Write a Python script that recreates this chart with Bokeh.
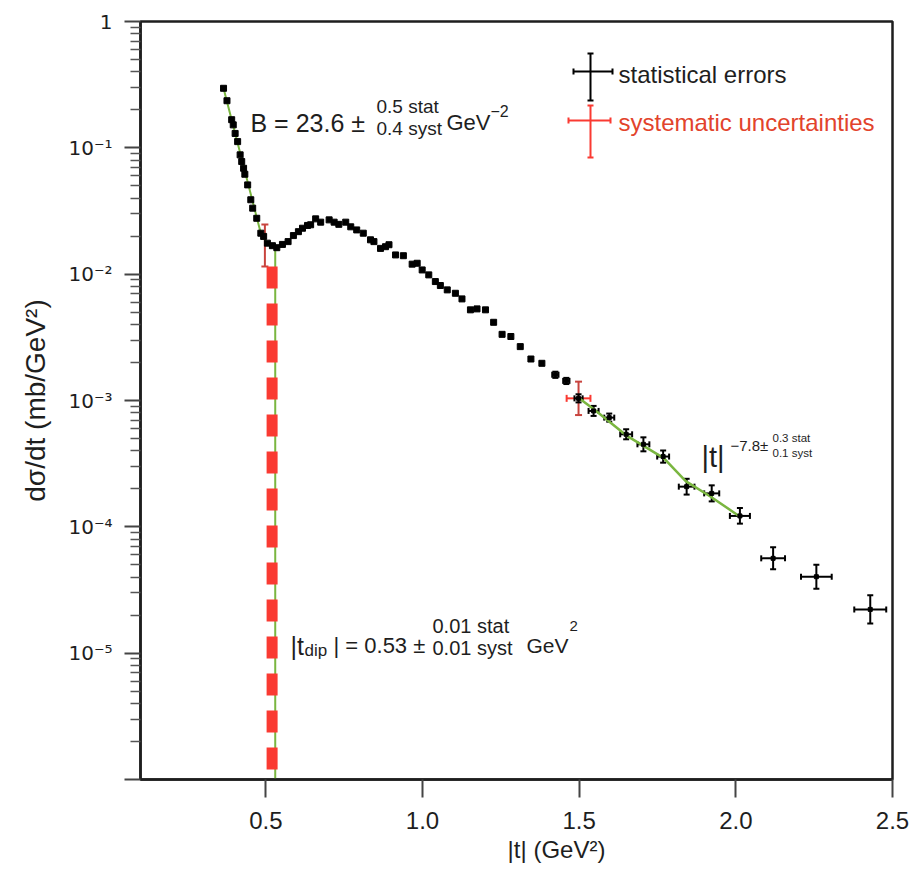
from bokeh.plotting import figure
from bokeh.models import Range1d, Label, Whisker, ColumnDataSource, FixedTicker, TeeHead
from bokeh.embed import file_html
from bokeh.resources import INLINE

# ---------------- data ----------------
# |t| (GeV^2) and dsigma/dt (mb/GeV^2) : dense points (error bars smaller than marker)
t_fine = [0.365, 0.376, 0.391, 0.396, 0.402, 0.410, 0.418, 0.423, 0.429, 0.433,
          0.442, 0.452, 0.458, 0.471, 0.484, 0.493, 0.505, 0.521, 0.535, 0.553,
          0.571, 0.588, 0.604, 0.617, 0.633, 0.643, 0.659, 0.675, 0.702, 0.718,
          0.733, 0.755, 0.771, 0.790, 0.811, 0.834, 0.845, 0.866, 0.882, 0.893,
          0.914, 0.939, 0.967, 0.983, 0.999, 1.020, 1.041, 1.057, 1.079, 1.105,
          1.126, 1.153, 1.174, 1.201, 1.227, 1.254, 1.282, 1.312, 1.346, 1.381]
ds_fine = [0.296, 0.236, 0.167, 0.152, 0.130, 0.112, 0.0880, 0.0779, 0.0689, 0.0618,
           0.0509, 0.0388, 0.0333, 0.0277, 0.0211, 0.0199, 0.0176, 0.0168, 0.0162, 0.0172,
           0.0181, 0.0202, 0.0217, 0.0231, 0.0243, 0.0246, 0.0274, 0.0258, 0.0269, 0.0258,
           0.0248, 0.0258, 0.0237, 0.0224, 0.0211, 0.0187, 0.0181, 0.0160, 0.0165, 0.0171,
           0.0142, 0.0140, 0.0120, 0.0122, 0.0108, 0.00987, 0.00874, 0.00813, 0.00751, 0.00706,
           0.00637, 0.00522, 0.00531, 0.00522, 0.00416, 0.00334, 0.00321, 0.00267, 0.00213, 0.00197]

# points with visible statistical error crosses
t_err = [1.424, 1.459, 1.498, 1.546, 1.596, 1.650, 1.705, 1.768, 1.843, 1.923,
         2.013, 2.119, 2.257, 2.429]
ds_err = [1.60e-3, 1.43e-3, 1.04e-3, 8.27e-4, 7.32e-4, 5.40e-4, 4.50e-4, 3.60e-4,
          2.08e-4, 1.84e-4, 1.22e-4, 5.63e-5, 4.03e-5, 2.22e-5]
t_half = [0.010, 0.010, 0.013, 0.016, 0.016, 0.019, 0.019, 0.019, 0.025, 0.024,
          0.032, 0.038, 0.049, 0.051]
ds_lo = [1.51e-3, 1.35e-3, 9.66e-4, 7.55e-4, 6.80e-4, 4.93e-4, 3.96e-4, 3.22e-4,
         1.80e-4, 1.59e-4, 1.06e-4, 4.61e-5, 3.24e-5, 1.72e-5]
ds_hi = [1.69e-3, 1.51e-3, 1.12e-3, 9.06e-4, 7.88e-4, 5.92e-4, 5.11e-4, 4.02e-4,
         2.40e-4, 2.13e-4, 1.41e-4, 6.88e-5, 5.02e-5, 2.87e-5]

# systematic uncertainties (red)
t_sys = [0.497, 1.498]
t_sys_half = [0.0, 0.038]
ds_sys = [0.0176, 1.04e-3]
ds_sys_lo = [0.0115, 7.67e-4]
ds_sys_hi = [0.0247, 1.41e-3]

# fits (green)
fit_exp_t = [0.365, 0.484, 0.505, 0.53]
fit_exp_ds = [0.296, 0.0211, 0.0175, 0.0163]
fit_pow_t = [1.50, 1.55, 1.65, 1.77, 1.84, 1.92, 2.01]
fit_pow_ds = [1.04e-3, 8.4e-4, 5.3e-4, 3.5e-4, 2.3e-4, 1.73e-4, 1.22e-4]
t_dip = 0.53
t_dip_band = 0.52
dip_line_ds = [0.0163, 1e-6]
dip_band_ds = [0.0115, 1.14e-6]

x_ticks = [0.5, 1.0, 1.5, 2.0, 2.5]
x_tick_labels = ["0.5", "1.0", "1.5", "2.0", "2.5"]
y_ticks = [1e-6, 1e-5, 1e-4, 1e-3, 1e-2, 1e-1, 1.0]
y_tick_labels = ["", "10⁻⁵", "10⁻⁴", "10⁻³", "10⁻²", "10⁻¹", "1"]

X_MIN, X_MAX = 0.1, 2.5
Y_MIN, Y_MAX = 1e-6, 1.0

# ---------------- layout constants (page pixels; Bokeh page has no body margin) ----------------
FRAME_L, FRAME_T, FRAME_W, FRAME_H = 140, 21, 752, 758
FRAME_B = FRAME_T + FRAME_H
BORDER_R, BORDER_B = 21, 88
INK = "#1e1e1e"
GREEN = "#7ab640"
RED = "#fa3a32"
TEXT_RED = "#e2432c"
FONT = "Liberation Sans"

p = figure(width=FRAME_L + FRAME_W + BORDER_R,
           height=FRAME_T + FRAME_H + BORDER_B,
           y_axis_type="log",
           x_range=Range1d(X_MIN, X_MAX), y_range=Range1d(Y_MIN, Y_MAX),
           output_backend="svg", toolbar_location=None,
           min_border_left=FRAME_L, min_border_top=FRAME_T,
           min_border_right=BORDER_R, min_border_bottom=BORDER_B)
p.background_fill_color = "white"
p.border_fill_color = "white"
p.xgrid.visible = False
p.ygrid.visible = False
p.outline_line_color = INK
p.outline_line_width = 2.5

# x axis
p.xaxis.ticker = FixedTicker(ticks=x_ticks)
p.xaxis.major_label_overrides = dict(zip(x_ticks, x_tick_labels))
p.xaxis.major_tick_out = 18
p.xaxis.major_tick_in = 0
p.xaxis.minor_tick_out = 0
p.xaxis.minor_tick_in = 0
p.xaxis.major_label_standoff = 14
p.xaxis.major_label_text_font = FONT
p.xaxis.major_label_text_font_size = "24px"
p.xaxis.major_label_text_color = INK
# title sits right of the frame centre in the reference: lead with no-break spaces
p.xaxis.axis_label = "\u00a0" * 12 + "|t| (GeV²)"
p.xaxis.axis_label_text_font = FONT
p.xaxis.axis_label_text_font_size = "24px"
p.xaxis.axis_label_text_font_style = "normal"
p.xaxis.axis_label_text_color = INK
p.xaxis.axis_label_standoff = 4

# y axis
minor = [k * d for d in y_ticks[:-1] for k in range(2, 10)]
p.yaxis.ticker = FixedTicker(ticks=y_ticks, minor_ticks=minor)
p.yaxis.major_label_overrides = dict(zip(y_ticks, y_tick_labels))
p.yaxis.major_tick_out = 16
p.yaxis.major_tick_in = 0
p.yaxis.minor_tick_out = 10
p.yaxis.minor_tick_in = 0
p.yaxis.major_label_standoff = 12
p.yaxis.major_label_text_font = "DejaVu Sans"
p.yaxis.major_label_text_font_size = "20px"
p.yaxis.major_label_text_color = INK
p.yaxis.axis_label = "dσ/dt (mb/GeV²)"
p.yaxis.axis_label_text_font = FONT
p.yaxis.axis_label_text_font_size = "28px"
p.yaxis.axis_label_text_font_style = "normal"
p.yaxis.axis_label_text_color = INK
p.yaxis.axis_label_standoff = 14

for ax in (p.xaxis, p.yaxis):
    ax.axis_line_color = INK
    ax.axis_line_width = 2.5
    ax.major_tick_line_color = "#444444"
    ax.major_tick_line_width = 2
    ax.minor_tick_line_color = "#555555"
    ax.minor_tick_line_width = 1.5

# ---------------- helpers ----------------
def px_to_t(px):
    return X_MIN + (px - FRAME_L) / FRAME_W * (X_MAX - X_MIN)

def py_to_ds(py):
    return 10 ** (-(py - FRAME_T) / FRAME_H * 6.0)

def label(text, px, py, size, color=INK, font=FONT, align="left"):
    p.add_layout(Label(x=px - FRAME_L, y=FRAME_B - py, x_units="screen", y_units="screen",
                       text=text, text_font=font, text_font_size=f"{size}px",
                       text_color=color, text_align=align, text_baseline="alphabetic"))

# ---------------- fits ----------------
p.line([t_dip, t_dip], dip_line_ds, line_color=GREEN, line_width=2)
p.line([t_dip_band, t_dip_band], dip_band_ds, line_color=RED, line_width=11,
       line_dash="22 15", line_cap="butt")
p.line(fit_exp_t, fit_exp_ds, line_color=GREEN, line_width=2)
p.line(fit_pow_t, fit_pow_ds, line_color=GREEN, line_width=2.5)

# ---------------- systematic (red) ----------------
sys_src = ColumnDataSource(dict(t=t_sys, ds=ds_sys, lo=ds_sys_lo, hi=ds_sys_hi))
p.add_layout(Whisker(source=sys_src, base="t", lower="lo", upper="hi", dimension="height",
                     line_color="#c8443e", line_width=2,
                     upper_head=TeeHead(size=7, line_color="#c8443e", line_width=2),
                     lower_head=TeeHead(size=7, line_color="#c8443e", line_width=2)))
sys_x_src = ColumnDataSource(dict(
    ds=ds_sys[1:], tl=[t_sys[1] - t_sys_half[1]], th=[t_sys[1] + t_sys_half[1]]))
p.add_layout(Whisker(source=sys_x_src, base="ds", lower="tl", upper="th", dimension="width",
                     line_color=RED, line_width=2,
                     upper_head=TeeHead(size=7, line_color=RED, line_width=2),
                     lower_head=TeeHead(size=7, line_color=RED, line_width=2)))

# ---------------- data points ----------------
p.scatter(t_fine, ds_fine, marker="square", size=6, fill_color="black", line_color="black")

err_src = ColumnDataSource(dict(
    t=t_err, ds=ds_err, lo=ds_lo, hi=ds_hi,
    tl=[a - b for a, b in zip(t_err, t_half)],
    th=[a + b for a, b in zip(t_err, t_half)]))
p.add_layout(Whisker(source=err_src, base="t", lower="lo", upper="hi", dimension="height",
                     line_color="black", line_width=2,
                     upper_head=TeeHead(size=6, line_color="black", line_width=2),
                     lower_head=TeeHead(size=6, line_color="black", line_width=2)))
p.add_layout(Whisker(source=err_src, base="ds", lower="tl", upper="th", dimension="width",
                     line_color="black", line_width=2,
                     upper_head=TeeHead(size=6, line_color="black", line_width=2),
                     lower_head=TeeHead(size=6, line_color="black", line_width=2)))
p.scatter("t", "ds", source=err_src, marker="square", size=4, fill_color="black",
          line_color="black")

# ---------------- legend ----------------
leg_black_v = ColumnDataSource(dict(t=[px_to_t(590)], lo=[py_to_ds(100)], hi=[py_to_ds(53)]))
leg_black_h = ColumnDataSource(dict(ds=[py_to_ds(71)], lo=[px_to_t(573)], hi=[px_to_t(612)]))
leg_red_v = ColumnDataSource(dict(t=[px_to_t(590)], lo=[py_to_ds(157)], hi=[py_to_ds(105)]))
leg_red_h = ColumnDataSource(dict(ds=[py_to_ds(120)], lo=[px_to_t(568)], hi=[px_to_t(610)]))
for src, base, dim, col in ((leg_black_v, "t", "height", "black"),
                            (leg_black_h, "ds", "width", "black"),
                            (leg_red_v, "t", "height", RED),
                            (leg_red_h, "ds", "width", RED)):
    p.add_layout(Whisker(source=src, base=base, lower="lo", upper="hi", dimension=dim,
                         line_color=col, line_width=2,
                         upper_head=TeeHead(size=6, line_color=col, line_width=2),
                         lower_head=TeeHead(size=6, line_color=col, line_width=2)))
label("statistical errors", 618, 74, 24)
label("systematic uncertainties", 618, 122, 24, color=TEXT_RED)

# ---------------- annotations ----------------
label("B = 23.6 ±", 250, 122, 25)
label("0.5 stat", 376, 106, 19)
label("0.4 syst", 376, 128, 19)
label("GeV", 446, 122, 22)
label("−2", 490, 110, 16)

label("|t|", 701, 456, 29)
label("−7.8±", 730, 445, 15)
label("0.3 stat", 772, 437, 11.5)
label("0.1 syst", 772, 452, 11.5)

label("|t", 290, 645, 25)
label("dip", 304, 650, 17)
label("| = 0.53 ±", 333, 645, 22)
label("0.01 stat", 432, 625, 20)
label("0.01 syst", 432, 647, 20)
label("GeV", 526, 645, 21)
label("2", 569, 625, 15)

open("out.html", "w").write(file_html(p, INLINE))
